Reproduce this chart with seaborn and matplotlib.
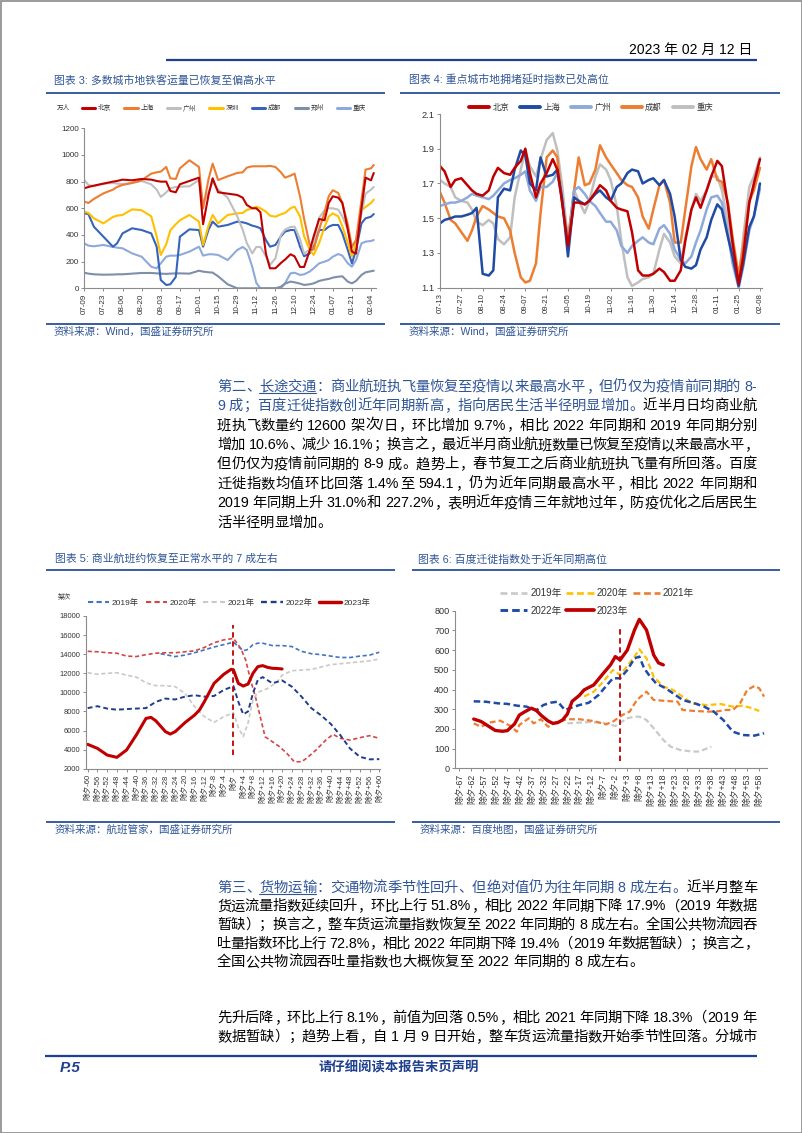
import pandas as pd
import seaborn as sns
import matplotlib.pyplot as plt
from matplotlib.lines import Line2D
from matplotlib.patches import Rectangle
from matplotlib.transforms import IdentityTransform

# ---------------- chart 3: metro passenger volume (万人), days from 07-09 ----------------
metro_cities = ['北京', '上海', '广州', '深圳', '成都', '郑州', '重庆']
metro_days = [0, 3, 7, 14, 21, 24, 28, 35, 42, 49, 53, 56, 60, 63, 67, 70, 77, 84, 87, 91,
              94, 98, 105, 112, 116, 119, 123, 126, 129, 133, 136, 140, 144, 147, 151, 154, 158, 161, 165, 168,
              172, 176, 179, 182, 186, 189, 193, 196, 199, 203, 206, 210, 212]
metro_tick_days = [0, 14, 28, 42, 56, 70, 84, 98, 112, 126, 140, 154, 168, 182, 196, 210]
metro_tick_labels = ['07-09', '07-23', '08-06', '08-20', '09-03', '09-17', '10-01', '10-15', '10-29',
                     '11-12', '11-26', '12-10', '12-24', '01-07', '01-21', '02-04']
metro_beijing = [750, 760, 770, 785, 800, 805, 815, 810, 820, 815, 805, 800, 800, 730, 720, 780, 805, 830, 480, 700,
                 825, 720, 710, 700, 680, 625, 600, 600, 570, 260, 150, 150, 190, 215, 255, 240, 160, 160, 280, 390,
                 520, 510, 640, 690, 680, 640, 440, 275, 260, 600, 830, 810, 865]
metro_shanghai = [650, 640, 670, 712, 740, 760, 775, 790, 810, 860, 870, 875, 910, 825, 820, 900, 960, 910, 600, 820,
                  935, 812, 840, 865, 870, 905, 915, 915, 915, 915, 918, 910, 870, 830, 845, 860, 690, 520, 330, 290,
                  440, 570, 690, 735, 715, 640, 480, 310, 360, 660, 890, 900, 925]
metro_guangzhou = [812, 775, 765, 785, 790, 785, 782, 790, 805, 780, 740, 685, 720, 750, 760, 762, 765, 812, 640, 720,
                   800, 740, 680, 540, 440, 340, 262, 310, 310, 240, 175, 225, 400, 440, 460, 462, 370, 260, 290, 340,
                   530, 585, 600, 600, 590, 540, 440, 310, 360, 560, 710, 740, 760]
metro_shenzhen = [575, 565, 525, 487, 535, 545, 550, 592, 585, 540, 390, 250, 330, 435, 480, 510, 550, 500, 325, 470,
                  550, 487, 550, 562, 565, 587, 600, 612, 600, 575, 545, 537, 555, 565, 600, 612, 540, 390, 290, 250,
                  340, 460, 537, 562, 540, 465, 340, 240, 340, 585, 610, 640, 665]
metro_chengdu = [562, 557, 462, 387, 312, 337, 412, 450, 437, 412, 312, 62, 25, 30, 85, 387, 442, 437, 312, 440,
                 500, 462, 475, 500, 495, 487, 470, 462, 450, 362, 312, 325, 390, 425, 437, 437, 312, 240, 262, 312,
                 437, 437, 462, 475, 475, 412, 287, 187, 287, 487, 525, 537, 557]
metro_zhengzhou = [117, 110, 105, 102, 103, 105, 105, 110, 115, 115, 112, 110, 108, 110, 112, 112, 110, 132, 125, 120,
                   118, 90, 30, 0, 0, 0, 0, 0, 0, 0, 0, 0, 12, 35, 50, 45, 35, 25, 30, 37,
                   55, 65, 70, 80, 87, 90, 50, 37, 55, 100, 120, 128, 132]
metro_chongqing = [337, 320, 315, 325, 310, 305, 300, 262, 237, 162, 150, 187, 237, 245, 245, 250, 275, 312, 245, 255,
                   255, 250, 212, 287, 310, 287, 162, 40, 0, 0, 0, 0, 0, 37, 112, 117, 100, 105, 125, 150,
                   187, 200, 212, 237, 257, 245, 187, 162, 212, 337, 350, 355, 362]

# ---------------- chart 4: congestion delay index, days from 07-13 ----------------
jam_cities = ['北京', '上海', '广州', '成都', '重庆']
jam_days = [0, 3, 7, 10, 14, 18, 21, 24, 28, 32, 35, 38, 42, 46, 49, 53, 56, 59, 63, 66,
            70, 74, 77, 80, 84, 88, 91, 95, 98, 102, 105, 109, 112, 116, 119, 123, 126, 130, 133, 137,
            140, 144, 147, 151, 154, 158, 161, 165, 168, 171, 175, 178, 182, 185, 189, 192, 196, 199, 203, 206, 210]
jam_tick_days = [0, 14, 28, 42, 56, 70, 84, 98, 112, 126, 140, 154, 168, 182, 196, 210]
jam_tick_labels = ['07-13', '07-27', '08-10', '08-24', '09-07', '09-21', '10-05', '10-19', '11-02',
                   '11-16', '11-30', '12-14', '12-28', '01-11', '01-25', '02-08']
jam_beijing = [1.80, 1.77, 1.68, 1.72, 1.73, 1.69, 1.66, 1.64, 1.63, 1.66, 1.74, 1.79, 1.76, 1.75, 1.79, 1.83, 1.90, 1.76, 1.62, 1.70,
               1.76, 1.84, 1.78, 1.60, 1.34, 1.59, 1.59, 1.58, 1.60, 1.65, 1.69, 1.66, 1.60, 1.56, 1.55, 1.54, 1.42, 1.20, 1.17, 1.17,
               1.18, 1.21, 1.19, 1.14, 1.14, 1.20, 1.37, 1.55, 1.62, 1.56, 1.66, 1.74, 1.83, 1.80, 1.57, 1.36, 1.12, 1.28, 1.59, 1.70, 1.84]
jam_shanghai = [1.47, 1.49, 1.50, 1.51, 1.51, 1.52, 1.53, 1.56, 1.18, 1.17, 1.20, 1.62, 1.67, 1.66, 1.78, 1.89, 1.86, 1.70, 1.66, 1.85,
                1.74, 1.75, 1.78, 1.62, 1.28, 1.62, 1.60, 1.58, 1.60, 1.64, 1.66, 1.62, 1.60, 1.68, 1.70, 1.76, 1.78, 1.77, 1.70, 1.72,
                1.73, 1.69, 1.72, 1.64, 1.51, 1.26, 1.22, 1.21, 1.23, 1.32, 1.39, 1.49, 1.58, 1.55, 1.39, 1.28, 1.11, 1.24, 1.45, 1.51, 1.70]
jam_guangzhou = [1.57, 1.58, 1.59, 1.59, 1.60, 1.62, 1.64, 1.63, 1.62, 1.61, 1.63, 1.66, 1.70, 1.72, 1.73, 1.75, 1.77, 1.66, 1.60, 1.68,
                 1.68, 1.71, 1.76, 1.62, 1.34, 1.66, 1.68, 1.64, 1.60, 1.57, 1.53, 1.48, 1.48, 1.43, 1.34, 1.30, 1.34, 1.37, 1.39, 1.36,
                 1.35, 1.44, 1.46, 1.41, 1.32, 1.26, 1.24, 1.28, 1.36, 1.43, 1.55, 1.62, 1.63, 1.59, 1.41, 1.24, 1.10, 1.22, 1.43, 1.51, 1.67]
jam_chengdu = [1.65, 1.59, 1.49, 1.47, 1.42, 1.37, 1.43, 1.51, 1.57, 1.55, 1.53, 1.51, 1.50, 1.43, 1.30, 1.16, 1.13, 1.14, 1.24, 1.53,
               1.85, 1.89, 1.85, 1.60, 1.38, 1.66, 1.85, 1.69, 1.70, 1.78, 1.92, 1.85, 1.81, 1.76, 1.72, 1.69, 1.68, 1.62, 1.51, 1.44,
               1.55, 1.69, 1.72, 1.59, 1.36, 1.36, 1.55, 1.80, 1.91, 1.84, 1.78, 1.84, 1.72, 1.71, 1.59, 1.39, 1.17, 1.34, 1.60, 1.66, 1.79]
jam_chongqing = [1.72, 1.70, 1.68, 1.62, 1.60, 1.59, 1.55, 1.48, 1.46, 1.49, 1.47, 1.38, 1.35, 1.39, 1.62, 1.78, 1.89, 1.80, 1.74, 1.84,
                 1.95, 1.99, 1.89, 1.70, 1.37, 1.66, 1.60, 1.53, 1.60, 1.74, 1.81, 1.78, 1.72, 1.57, 1.37, 1.16, 1.11, 1.13, 1.15, 1.16,
                 1.18, 1.32, 1.41, 1.36, 1.28, 1.24, 1.39, 1.55, 1.64, 1.60, 1.66, 1.74, 1.74, 1.66, 1.47, 1.32, 1.14, 1.39, 1.68, 1.74, 1.85]

# ---------------- chart 5: commercial flights (架次), days from 除夕 ----------------
years = ['2019年', '2020年', '2021年', '2022年', '2023年']
flights_days_2019 = [-30, -24, -20, -16, -12, -8, -4, 0, 2, 4, 6, 8, 10, 12, 16, 20, 24, 28, 32, 36, 40, 44, 48, 52, 56, 60]
flights_2019 = [14050, 13750, 13900, 14150, 14450, 14750, 15000, 15250, 14800, 14350, 14500, 15000, 15150, 15150,
                14900, 14900, 14800, 14300, 14050, 13950, 13800, 13650, 13650, 13800, 13900, 14200]
flights_days_2020 = [-60, -56, -52, -48, -44, -40, -36, -32, -28, -24, -20, -16, -12, -8, -4, 0, 3, 5, 7, 9,
                     11, 13, 16, 19, 22, 25, 28, 30, 34, 38, 41, 44, 48, 52, 56, 60]
flights_2020 = [14300, 14250, 14150, 14100, 13800, 13750, 13950, 14100, 14150, 14150, 14250, 14350, 14700, 15200,
                15500, 15650, 14600, 13400, 11300, 9550, 7450, 5350, 4830, 4300, 3600, 2730, 2730, 3080, 3960, 5000,
                5600, 5180, 5000, 5250, 5460, 5180]
flights_days_2021 = [-60, -56, -52, -48, -44, -40, -36, -32, -28, -24, -20, -16, -12, -8, -4, 0, 2, 4, 6, 8,
                     10, 14, 18, 20, 24, 32, 40, 48, 56, 60]
flights_2021 = [12050, 11900, 12000, 12050, 11800, 11600, 11000, 10700, 10700, 10600, 9900, 8500, 7450, 6860,
                7450, 7870, 6300, 5350, 6800, 9200, 10000, 10400, 11100, 11800, 12270, 12400, 12900, 13100, 13300, 13500]
flights_days_2022 = [-60, -56, -52, -48, -44, -40, -36, -32, -28, -24, -20, -16, -12, -8, -4, 0, 2, 4, 6, 8,
                     10, 12, 16, 20, 24, 28, 32, 36, 40, 44, 48, 52, 56, 60]
flights_2022 = [8350, 8550, 8300, 8180, 8250, 8300, 8350, 9000, 9350, 9250, 9550, 9700, 9550, 9620, 10250, 10650,
                9000, 7700, 8000, 9900, 11300, 11600, 10950, 11250, 10600, 9550, 8350, 7600, 6700, 5500, 4100, 3250,
                2980, 3000]
flights_days_2023 = [-60, -56, -52, -48, -44, -40, -36, -34, -32, -28, -26, -24, -20, -16, -14, -12, -8, -4, -1, 0,
                     2, 4, 6, 8, 10, 12, 14, 16, 18, 20]
flights_2023 = [4550, 4130, 3430, 3190, 3960, 5530, 7270, 7380, 7030, 5880, 5630, 5880, 6820, 7620, 8150, 9020,
                10940, 11890, 12410, 12350, 10940, 10660, 10870, 11990, 12690, 12800, 12620, 12520, 12500, 12450]
flights_tick_days = list(range(-60, 61, 4))
flights_tick_labels = ['除夕' if d == 0 else f'除夕{d:+d}' for d in flights_tick_days]
flights_marker_day = 0
flights_marker_range = (3450, 17050)

# ---------------- chart 6: Baidu migration index, days from 除夕 ----------------
mig_days_2019 = [-22, -17, -12, -7, -2, 3, 6, 8, 11, 14, 18, 21, 25, 30, 33, 38]
mig_2019 = [228, 232, 235, 230, 215, 254, 262, 262, 245, 203, 144, 110, 93, 85, 85, 110]
mig_days_2020 = [-15, -11, -7, -3, 0, 3, 6, 8, 11, 14, 18, 22, 26, 30, 36, 42, 47, 51, 55, 58]
mig_2020 = [364, 389, 440, 499, 474, 520, 567, 604, 558, 465, 415, 398, 364, 330, 321, 326, 313, 318, 305, 291]
mig_days_2021 = [-61, -58, -54, -50, -46, -43, -42, -38, -36, -33, -30, -26, -22, -17, -11, -6, -3, 1, 4, 7,
                 11, 14, 19, 24, 26, 31, 36, 40, 44, 47, 50, 53, 56, 58, 60]
mig_2021 = [228, 211, 233, 242, 217, 186, 220, 254, 228, 249, 211, 237, 249, 249, 240, 223, 237, 271, 288, 347,
            389, 347, 342, 338, 296, 291, 288, 288, 296, 296, 330, 398, 418, 406, 364]
mig_days_2022 = [-61, -56, -51, -47, -43, -39, -35, -32, -29, -26, -23, -21, -17, -13, -9, -6, -3, 0, 3, 6,
                 8, 10, 12, 15, 19, 22, 26, 31, 35, 39, 43, 47, 51, 56, 60]
mig_2022 = [340, 338, 330, 327, 318, 313, 293, 321, 333, 338, 296, 305, 321, 333, 372, 415, 457, 457, 499, 558,
            567, 508, 474, 431, 406, 381, 347, 330, 313, 288, 245, 186, 169, 166, 178]
mig_days_2023 = [-61, -58, -55, -52, -49, -47, -44, -42, -40, -37, -35, -33, -30, -28, -26, -24, -22, -20, -17, -15,
                 -11, -7, -4, -2, 0, 3, 6, 8, 11, 14, 16, 18]
mig_2023 = [250, 238, 215, 192, 188, 191, 225, 270, 285, 305, 295, 270, 240, 228, 232, 245, 275, 340, 370, 398,
            423, 482, 525, 567, 550, 600, 702, 756, 702, 575, 535, 525]
mig_tick_days = list(range(-67, 59, 5))
mig_tick_labels = [f'除夕{d:+d}' for d in mig_tick_days]
mig_marker_day = 0
mig_marker_range = (35, 710)

# ---------------- styles ----------------
metro_colors = {'北京': '#C00000', '上海': '#ED7D31', '广州': '#BFBFBF', '深圳': '#FFC000',
                '成都': '#3563BE', '郑州': '#7F8FA9', '重庆': '#8EAADB'}
jam_colors = {'北京': '#C00000', '上海': '#1F4BA5', '广州': '#8EAADB', '成都': '#ED7D31', '重庆': '#BFBFBF'}
flight_colors = {'2019年': '#4472C4', '2020年': '#D64545', '2021年': '#C9C9C9', '2022年': '#1F3D8C', '2023年': '#C00000'}
flight_dashes = {'2019年': (2.5, 1.6), '2020年': (2.5, 1.6), '2021年': (2.5, 1.6), '2022年': (2.5, 1.6), '2023年': ''}
flight_widths = {'2019年': 1.2, '2020年': 1.2, '2021年': 1.2, '2022年': 1.4, '2023年': 2.2}
mig_colors = {'2019年': '#C9C9C9', '2020年': '#FFC000', '2021年': '#ED7D31', '2022年': '#1F4BA5', '2023年': '#C00000'}
mig_dashes = {'2019年': (2.6, 1.4), '2020年': (2.6, 1.4), '2021年': (2.6, 1.4), '2022年': (2.6, 1.4), '2023年': ''}
mig_widths = {'2019年': 1.6, '2020年': 1.6, '2021年': 1.6, '2022年': 1.8, '2023年': 2.4}

BLUE = '#2F5597'
RULE = '#2B4F96'
AXIS_GREY = '#8C8C8C'
TICK_TEXT = '#333333'
W, H = 802, 1133
PX = IdentityTransform()

sns.set_theme(style='ticks')
plt.rcParams['font.family'] = ['Liberation Sans', 'Noto Sans CJK SC']
plt.rcParams['axes.unicode_minus'] = False

fig = plt.figure(figsize=(W / 100, H / 100), dpi=100)
fig.patch.set_facecolor('white')
renderer = fig.canvas.get_renderer()


def add_ax(left, top, right, bottom):
    return fig.add_axes([left / W, 1 - bottom / H, (right - left) / W, (bottom - top) / H])


def style(ax, ysize, xsize):
    sns.despine(ax=ax)
    for side in ('left', 'bottom'):
        ax.spines[side].set_color(AXIS_GREY)
        ax.spines[side].set_linewidth(0.8)
    ax.tick_params(direction='out', length=2.5, width=0.7, color=AXIS_GREY, labelcolor=TICK_TEXT, pad=1.5)
    ax.tick_params(axis='y', labelsize=ysize)
    ax.tick_params(axis='x', labelsize=xsize)
    ax.set_xlabel('')
    ax.set_ylabel('')


def px_text(x, y, s, **kw):
    kw.setdefault('va', 'center')
    return fig.text(x, H - y, s, transform=PX, **kw)


def px_rule(x0, x1, y, lw=1.3, color=RULE):
    fig.add_artist(Line2D([x0, x1], [H - y, H - y], transform=PX, color=color, lw=lw, solid_capstyle='butt'))


# ---------------- chart 3 ----------------
ax3 = add_ax(84.3, 128.3, 375.8, 288.3)
metro = pd.DataFrame({'day': metro_days, '北京': metro_beijing, '上海': metro_shanghai, '广州': metro_guangzhou,
                      '深圳': metro_shenzhen, '成都': metro_chengdu, '郑州': metro_zhengzhou, '重庆': metro_chongqing})
metro_long = metro.melt(id_vars='day', var_name='city', value_name='value')
sns.lineplot(data=metro_long, x='day', y='value', hue='city', hue_order=metro_cities[::-1], palette=metro_colors,
             linewidth=1.5, estimator=None, errorbar=None, legend=False, ax=ax3)
ax3.set_xlim(0, 213.5)
ax3.set_ylim(0, 1200)
ax3.set_yticks(range(0, 1201, 200))
ax3.set_xticks(metro_tick_days, metro_tick_labels, rotation=90)
style(ax3, 5.8, 5.8)
fig.legend([Line2D([], [], color=metro_colors[c], lw=2.2) for c in metro_cities], metro_cities,
           loc='center', bbox_to_anchor=(224 / W, 1 - 108.5 / H), ncol=7, frameon=False, fontsize=4.8,
           handlelength=2.0, handletextpad=0.4, columnspacing=2.0, borderpad=0, labelcolor=TICK_TEXT)
px_text(57, 108.5, '万人', fontsize=4.8, color=TICK_TEXT)

# ---------------- chart 4 ----------------
ax4 = add_ax(440, 114, 761.5, 287.7)
jam = pd.DataFrame({'day': jam_days, '北京': jam_beijing, '上海': jam_shanghai, '广州': jam_guangzhou,
                    '成都': jam_chengdu, '重庆': jam_chongqing})
jam_long = jam.melt(id_vars='day', var_name='city', value_name='value')
sns.lineplot(data=jam_long, x='day', y='value', hue='city', hue_order=jam_cities[::-1], palette=jam_colors,
             linewidth=1.8, estimator=None, errorbar=None, legend=False, ax=ax4)
ax4.set_xlim(0, 211)
ax4.set_ylim(1.1, 2.1)
ax4.set_yticks([1.1, 1.3, 1.5, 1.7, 1.9, 2.1], ['1.1', '1.3', '1.5', '1.7', '1.9', '2.1'])
ax4.set_xticks(jam_tick_days, jam_tick_labels, rotation=90)
style(ax4, 6.7, 5.6)
fig.legend([Line2D([], [], color=jam_colors[c], lw=2.8) for c in jam_cities], jam_cities,
           loc='center', bbox_to_anchor=(591 / W, 1 - 108 / H), ncol=5, frameon=False, fontsize=6,
           handlelength=2.4, handletextpad=0.4, columnspacing=1.3, borderpad=0, labelcolor=TICK_TEXT)

# ---------------- chart 5 ----------------
ax5 = add_ax(86, 616, 380.5, 768.7)
flights = pd.concat([
    pd.DataFrame({'day': flights_days_2019, 'value': flights_2019, 'year': '2019年'}),
    pd.DataFrame({'day': flights_days_2020, 'value': flights_2020, 'year': '2020年'}),
    pd.DataFrame({'day': flights_days_2021, 'value': flights_2021, 'year': '2021年'}),
    pd.DataFrame({'day': flights_days_2022, 'value': flights_2022, 'year': '2022年'}),
    pd.DataFrame({'day': flights_days_2023, 'value': flights_2023, 'year': '2023年'}),
], ignore_index=True)
sns.lineplot(data=flights, x='day', y='value', hue='year', style='year', size='year', hue_order=years,
             style_order=years, size_order=years, palette=flight_colors, dashes=flight_dashes, sizes=flight_widths,
             estimator=None, errorbar=None, legend=False, ax=ax5)
ax5.vlines(flights_marker_day, *flights_marker_range, colors='#C00000', linestyles=(0, (3, 2)), lw=1.3)
ax5.set_xlim(-60.7, 60.5)
ax5.set_ylim(2000, 18000)
ax5.set_yticks(range(2000, 18001, 2000))
ax5.set_xticks(flights_tick_days, flights_tick_labels, rotation=90)
style(ax5, 5.4, 5.5)
fig.legend([Line2D([], [], color=flight_colors[y], lw=flight_widths[y] + 0.3,
                   linestyle=(0, flight_dashes[y]) if flight_dashes[y] else '-') for y in years], years,
           loc='center', bbox_to_anchor=(229 / W, 1 - 603 / H), ncol=5, frameon=False, fontsize=6,
           handlelength=2.6, handletextpad=0.3, columnspacing=0.8, borderpad=0, labelcolor=TICK_TEXT)
px_text(58, 597, '架次', fontsize=4.8, color=TICK_TEXT)

# ---------------- chart 6 ----------------
ax6 = add_ax(455, 610.7, 766.5, 768.3)
mig = pd.concat([
    pd.DataFrame({'day': mig_days_2019, 'value': mig_2019, 'year': '2019年'}),
    pd.DataFrame({'day': mig_days_2020, 'value': mig_2020, 'year': '2020年'}),
    pd.DataFrame({'day': mig_days_2021, 'value': mig_2021, 'year': '2021年'}),
    pd.DataFrame({'day': mig_days_2022, 'value': mig_2022, 'year': '2022年'}),
    pd.DataFrame({'day': mig_days_2023, 'value': mig_2023, 'year': '2023年'}),
], ignore_index=True)
sns.lineplot(data=mig, x='day', y='value', hue='year', style='year', size='year', hue_order=years,
             style_order=years, size_order=years, palette=mig_colors, dashes=mig_dashes, sizes=mig_widths,
             estimator=None, errorbar=None, legend=False, ax=ax6)
ax6.vlines(mig_marker_day, *mig_marker_range, colors='#C00000', linestyles=(0, (3, 2)), lw=1.3)
ax6.set_xlim(-68.8, 61)
ax6.set_ylim(0, 800)
ax6.set_yticks(range(0, 801, 100))
ax6.set_xticks(mig_tick_days, mig_tick_labels, rotation=90)
style(ax6, 6.6, 6.3)
mig_order = ['2019年', '2022年', '2020年', '2023年', '2021年']
fig.legend([Line2D([], [], color=mig_colors[y], lw=mig_widths[y] + 0.3,
                   linestyle=(0, mig_dashes[y]) if mig_dashes[y] else '-') for y in mig_order], mig_order,
           loc='center', bbox_to_anchor=(597 / W, 1 - 602 / H), ncol=3, frameon=False, fontsize=7,
           handlelength=2.8, handletextpad=0.3, columnspacing=0.5, labelspacing=0.8, borderpad=0,
           labelcolor=TICK_TEXT)

# ---------------- page furniture ----------------
px_text(752, 50, '2023 年 02 月 12 日', fontsize=10, color='black', ha='right')
px_rule(166, 757, 59.5, lw=1.6, color='#1F3F8F')

px_text(54, 80, '图表 3: 多数城市地铁客运量已恢复至偏高水平', fontsize=7.8, color=BLUE)
px_text(409, 80, '图表 4: 重点城市地拥堵延时指数已处高位', fontsize=7.8, color=BLUE)
px_rule(46, 385, 92.7)
px_rule(400, 780, 92.7)
px_rule(46, 385, 323.5)
px_rule(400, 780, 323.5)
px_text(54, 331.5, '资料来源：Wind，国盛证券研究所', fontsize=7.6, color=BLUE)
px_text(409, 331.5, '资料来源：Wind，国盛证券研究所', fontsize=7.6, color=BLUE)

px_text(55, 559, '图表 5: 商业航班约恢复至正常水平的 7 成左右', fontsize=7.8, color=BLUE)
px_text(418, 559, '图表 6: 百度迁徙指数处于近年同期高位', fontsize=7.8, color=BLUE)
px_rule(46, 395, 570)
px_rule(412, 780, 570)
px_rule(46, 395, 822)
px_rule(412, 780, 822)
px_text(55, 830, '资料来源：航班管家，国盛证券研究所', fontsize=7.6, color=BLUE)
px_text(420, 830, '资料来源：百度地图，国盛证券研究所', fontsize=7.6, color=BLUE)

px_rule(45, 757, 1055.5, lw=1.6, color='#1F3F8F')
px_text(60, 1067.5, 'P.5', fontsize=11, color='#1F3F8F', weight='bold', style='italic')
px_text(399, 1067.5, '请仔细阅读本报告末页声明', fontsize=9.6, color='#1F3F8F', weight='bold', ha='center')
fig.add_artist(Rectangle((0.5, 0.5), W - 1, H - 1, transform=PX, fill=False, edgecolor='#8A8A8A', lw=1.2))

# ---------------- body text (justified, one token per glyph) ----------------
BODY = 10.3
TEXT_LEFT, TEXT_RIGHT = 217, 757
HANG_LEFT = set('，。、：；）')
HANG_RIGHT = set('（')
_ink = {}


def ink_width(s, size):
    if (s, size) not in _ink:
        t = fig.text(0, 0, s, fontsize=size)
        _ink[(s, size)] = t.get_window_extent(renderer).width
        t.remove()
    return _ink[(s, size)]


def advance(s, size):
    return ink_width('中' + s + '中', size) - ink_width('中中', size)


def tokens_of(segments):
    out = []
    for text, color, under in segments:
        run = ''
        for ch in text:
            if ord(ch) < 128 and ch != ' ':
                run += ch
                continue
            if run:
                out.append((run, color, under))
                run = ''
            out.append((ch, color, under))
        if run:
            out.append((run, color, under))
    return out


def body_line(segments, y, justify=True, size=BODY):
    toks = tokens_of(segments)
    adv = [advance(t[0], size) for t in toks]
    n_gaps = sum(1 for t in toks[:-1] if t[0] != ' ')
    extra = (TEXT_RIGHT - TEXT_LEFT - sum(adv)) / n_gaps if justify and n_gaps else 0
    base = H - y - 0.37 * size * 100 / 72
    x = TEXT_LEFT
    under_span = []
    for i, ((s, color, under), a) in enumerate(zip(toks, adv)):
        if s != ' ':
            ink = ink_width(s, size)
            if s in HANG_LEFT:
                off = 0.06 * a
            elif s in HANG_RIGHT:
                off = a - ink - 0.06 * a
            else:
                off = (a - ink) / 2
            fig.text(x + off, base, s, transform=PX, fontsize=size, color=color, ha='left', va='baseline')
            if under:
                under_span.append((x, x + a, color))
        x += a
        if i < len(toks) - 1 and s != ' ':
            x += extra
    if under_span:
        fig.add_artist(Line2D([under_span[0][0], under_span[-1][1]], [base - 2.5, base - 2.5],
                              transform=PX, color=under_span[0][2], lw=0.8))


K = 'black'
para1 = [
    [('第二、', BLUE, False), ('长途交通', BLUE, True), ('：商业航班执飞量恢复至疫情以来最高水平，但仍仅为疫情前同期的 8-', BLUE, False)],
    [('9 成；百度迁徙指数创近年同期新高，指向居民生活半径明显增加。', BLUE, False), ('近半月日均商业航', K, False)],
    [('班执飞数量约 12600 架次/日，环比增加 9.7%，相比 2022 年同期和 2019 年同期分别', K, False)],
    [('增加 10.6%、减少 16.1%；换言之，最近半月商业航班数量已恢复至疫情以来最高水平，', K, False)],
    [('但仍仅为疫情前同期的 8-9 成。趋势上，春节复工之后商业航班执飞量有所回落。百度', K, False)],
    [('迁徙指数均值环比回落 1.4%至 594.1，仍为近年同期最高水平，相比 2022 年同期和', K, False)],
    [('2019 年同期上升 31.0%和 227.2%，表明近年疫情三年就地过年，防疫优化之后居民生', K, False)],
    [('活半径明显增加。', K, False)],
]
para2 = [
    [('第三、', BLUE, False), ('货物运输', BLUE, True), ('：交通物流季节性回升、但绝对值仍为往年同期 8 成左右。', BLUE, False),
     ('近半月整车', K, False)],
    [('货运流量指数延续回升，环比上行 51.8%，相比 2022 年同期下降 17.9%（2019 年数据', K, False)],
    [('暂缺）；换言之，整车货运流量指数恢复至 2022 年同期的 8 成左右。全国公共物流园吞', K, False)],
    [('吐量指数环比上行 72.8%，相比 2022 年同期下降 19.4%（2019 年数据暂缺）；换言之，', K, False)],
    [('全国公共物流园吞吐量指数也大概恢复至 2022 年同期的 8 成左右。', K, False)],
]
para3 = [
    [('先升后降，环比上行 8.1%，前值为回落 0.5%，相比 2021 年同期下降 18.3%（2019 年', K, False)],
    [('数据暂缺）；趋势上看，自 1 月 9 日开始，整车货运流量指数开始季节性回落。分城市', K, False)],
]

for i, line in enumerate(para1):
    body_line(line, 385.5 + 19.4 * i, justify=i < len(para1) - 1)
for i, line in enumerate(para2):
    body_line(line, 886.5 + 18.6 * i, justify=i < len(para2) - 1)
for i, line in enumerate(para3):
    body_line(line, 1016.7 + 18.8 * i)

fig.savefig('out.png', dpi=100, facecolor='white')
